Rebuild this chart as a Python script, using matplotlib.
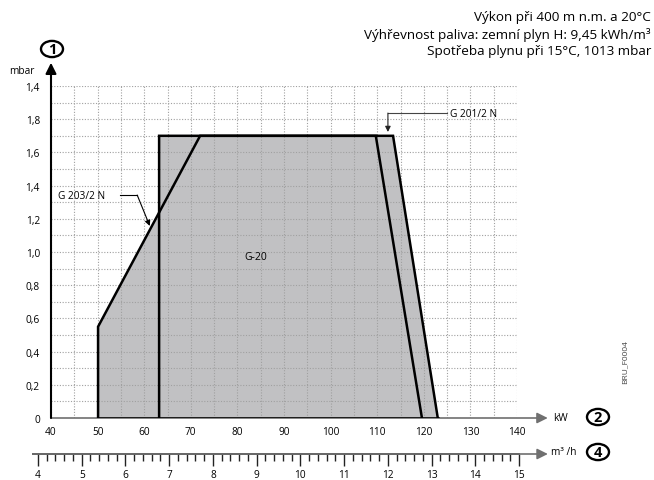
import matplotlib
matplotlib.use("Agg")
from matplotlib import pyplot as plt
from matplotlib.patches import Polygon, Circle
import numpy as np

plt.rcParams['font.family'] = ['Open Sans', 'DejaVu Sans']

# envelope points (kW, mbar)
g203_kw = [50.1, 50.1, 72.0, 113.4, 123.0]
g203_mbar = [0.0, 0.55, 1.70, 1.70, 0.0]
g20_kw = [63.2, 63.2, 109.7, 119.6]
g20_mbar = [0.0, 1.70, 1.70, 0.0]

y_ticks = [0, 0.2, 0.4, 0.6, 0.8, 1.0, 1.2, 1.4, 1.6, 1.8, 2.0]
y_labels = ['0', '0,2', '0,4', '0,6', '0,8', '1,0', '1,2', '1,4', '1,6', '1,8', '1,4']
x_ticks = [40, 50, 60, 70, 80, 90, 100, 110, 120, 130, 140]
flow_ticks = [4, 5, 6, 7, 8, 9, 10, 11, 12, 13, 14, 15]

W, H = 654, 481
fig = plt.figure(figsize=(W / 100, H / 100), dpi=100)

def px(x0, y0, x1, y1):
    return [x0 / W, 1 - y1 / H, (x1 - x0) / W, (y1 - y0) / H]

ax = fig.add_axes(px(51, 87, 517, 419))
ax.set_xlim(40, 140)
ax.set_ylim(0, 2.0)
for s in ax.spines.values():
    s.set_visible(False)

fill = '#c1c1c3'
ax.add_patch(Polygon(list(zip(g203_kw, g203_mbar)), closed=True, fc=fill, ec='none', zorder=1))
ax.add_patch(Polygon(list(zip(g20_kw, g20_mbar)), closed=True, fc=fill, ec='none', zorder=1))

# dotted grid
ax.set_xticks(np.arange(40, 141, 5), minor=True)
ax.set_yticks(np.arange(0, 2.01, 0.1), minor=True)
ax.grid(which='both', ls=(0, (1, 1.5)), color='#a0a0a0', lw=0.8, zorder=2)
ax.set_axisbelow(False)
ax.tick_params(which='both', length=0)
ax.set_xticks(x_ticks)
ax.set_xticklabels([str(t) for t in x_ticks], fontsize=7.3)
ax.set_yticks(y_ticks)
ax.set_yticklabels(y_labels, fontsize=7.3)
ax.tick_params(axis='x', pad=6)
ax.tick_params(axis='y', pad=8)

# outlines
ax.plot(g203_kw, g203_mbar, color='black', lw=1.8, zorder=4, solid_joinstyle='miter')
ax.plot(g20_kw, g20_mbar, color='black', lw=1.8, zorder=4, solid_joinstyle='miter')

# axes with arrows
ax.annotate('', xy=(146.6, 0), xytext=(40, 0), annotation_clip=False,
            arrowprops=dict(arrowstyle='-|>', color='#707070', lw=1.2, mutation_scale=16,
                            shrinkA=0, shrinkB=0), zorder=3)
ax.plot([50.1, 123.0], [0, 0], color='black', lw=1.8, zorder=4)
ax.annotate('', xy=(40, 2.14), xytext=(40, 0), annotation_clip=False,
            arrowprops=dict(arrowstyle='-|>', color='black', lw=1.5, mutation_scale=16,
                            shrinkA=0, shrinkB=0), zorder=5)

ax.text(84, 0.97, 'G-20', fontsize=7.5, ha='center', va='center', zorder=6)

# leader G 203/2 N
ax.text(41.5, 1.343, 'G 203/2 N', fontsize=7.3, ha='left', va='center', zorder=6)
ax.plot([54.8, 58.5], [1.343, 1.343], color='black', lw=0.8, zorder=6)
ax.annotate('', xy=(61.2, 1.157), xytext=(58.5, 1.343),
            arrowprops=dict(arrowstyle='-|>', color='black', lw=0.8, mutation_scale=8,
                            shrinkA=0, shrinkB=0), zorder=6)

# leader G 201/2 N
ax.text(125.6, 1.837, 'G 201/2 N', fontsize=7.3, ha='left', va='center', zorder=6)
ax.plot([125.0, 112.3], [1.837, 1.837], color='#444444', lw=0.8, zorder=6)
ax.annotate('', xy=(112.3, 1.723), xytext=(112.3, 1.837),
            arrowprops=dict(arrowstyle='-|>', color='#222222', lw=0.8, mutation_scale=8,
                            shrinkA=0, shrinkB=0), zorder=6)

# flow axis (m3/h)
ax2 = fig.add_axes(px(33, 445, 545, 455))
v0 = 4 - 5 / 43.73
v1 = 15 + 26 / 43.73
ax2.set_xlim(v0, v1)
ax2.set_ylim(0, 1)
for s in ax2.spines.values():
    s.set_visible(False)
ax2.set_yticks([])
ax2.patch.set_alpha(0)
ax2.annotate('', xy=(15.66, 0), xytext=(v0, 0), annotation_clip=False,
             arrowprops=dict(arrowstyle='-|>', color='#707070', lw=1.2, mutation_scale=16,
                             shrinkA=0, shrinkB=0))
ax2.plot([v0, 15.0], [0, 0], color='#222222', lw=1.2, clip_on=False)
ax2.set_xticks(flow_ticks)
ax2.set_xticklabels([str(t) for t in flow_ticks], fontsize=7.3)
ax2.set_xticks(np.arange(4, 15.01, 0.2), minor=True)
ax2.tick_params(axis='x', which='major', direction='out', length=8.6, width=1, color='#222222', pad=2)
ax2.tick_params(axis='x', which='minor', direction='out', length=5, width=1, color='#222222')

# labels and circled numbers
fig.text(553 / W, 1 - 419 / H, 'kW', fontsize=7.3, ha='left', va='center')
fig.text(551 / W, 1 - 453 / H, 'm³ /h', fontsize=7.3, ha='left', va='center')
fig.text(35 / W, 1 - 72 / H, 'mbar', fontsize=7.3, ha='right', va='center')
for cx, cy, t in [(52, 50, '1'), (598, 418, '2'), (598, 453, '4')]:
    fig.patches.append(Circle((cx / W, 1 - cy / H), 11 / W, transform=fig.transFigure,
                              fc='white', ec='black', lw=1.7))
    fig.text(cx / W, 1 - cy / H, t, fontsize=10.5, fontweight='bold', ha='center', va='center')

fig.text(651 / W, 1 - 18 / H, 'Výkon při 400 m n.m. a 20°C', fontsize=9.7, ha='right', va='center')
fig.text(651 / W, 1 - 35 / H, 'Výhřevnost paliva: zemní plyn H: 9,45 kWh/m³', fontsize=9.7, ha='right', va='center')
fig.text(651 / W, 1 - 52 / H, 'Spotřeba plynu při 15°C, 1013 mbar', fontsize=9.7, ha='right', va='center')
fig.text(625 / W, 1 - 362 / H, 'BRU_F0004', fontsize=6, rotation=90, ha='center', va='center', color='#444444')

fig.savefig('out.png', dpi=100)
